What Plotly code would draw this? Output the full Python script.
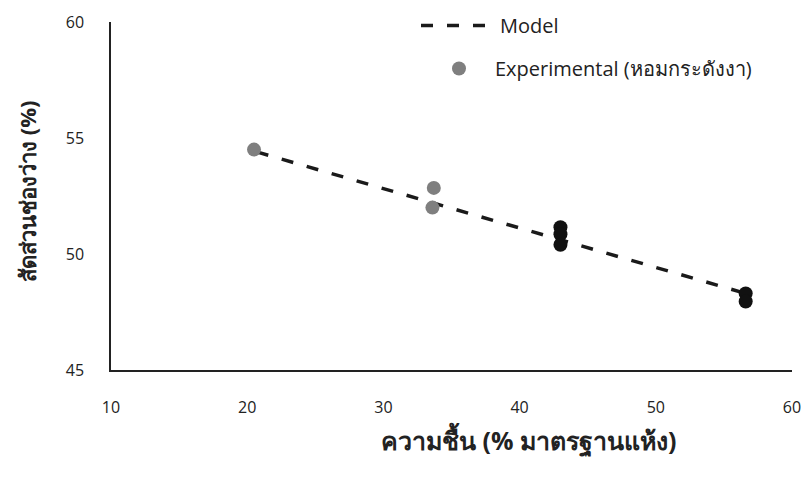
import plotly.graph_objects as go

# Data
model_x = [20.7, 56.6]
model_y = [54.4, 48.3]

exp_grey_x = [20.5, 33.7, 33.6]
exp_grey_y = [54.5, 52.85, 52.0]

exp_dark_x = [43.0, 43.0, 43.0, 56.6, 56.6]
exp_dark_y = [51.15, 50.85, 50.4, 48.3, 47.95]

x_ticks = [10, 20, 30, 40, 50, 60]
y_ticks = [45, 50, 55, 60]

# figure / plot-area geometry in pixels (for placing legends / titles)
FW, FH = 807, 484
L, R, T, B = 111, 792, 22, 370
W, H = R - L, B - T

fig = go.Figure()

fig.add_trace(go.Scatter(
    x=model_x, y=model_y, mode="lines", name="Model", legend="legend",
    line=dict(color="#1a1a1a", width=3.5, dash="12px,14px"),
))
fig.add_trace(go.Scatter(
    x=exp_grey_x, y=exp_grey_y, mode="markers", name="Experimental (หอมกระดังงา)",
    legend="legend2",
    marker=dict(color="#7f7f7f", size=14),
))
fig.add_trace(go.Scatter(
    x=exp_dark_x, y=exp_dark_y, mode="markers", showlegend=False,
    marker=dict(color="#111111", size=14),
))

legend_common = dict(xanchor="left", yanchor="top", xref="container", yref="container",
                     bgcolor="rgba(0,0,0,0)", font=dict(size=20, color="#222222"),
                     borderwidth=0)

fig.update_layout(
    width=FW, height=FH,
    margin=dict(l=L, r=FW - R, t=T, b=FH - B, autoexpand=False),
    paper_bgcolor="white", plot_bgcolor="white",
    font=dict(family="Open Sans, Noto Sans, sans-serif", color="#222222", size=16),
    showlegend=True,
    legend=dict(x=416 / FW, y=1 - 6 / FH, itemwidth=74, **legend_common),
    legend2=dict(x=423 / FW, y=1 - 49 / FH, itemwidth=62, **legend_common),
    xaxis=dict(range=[10, 60], tickvals=x_ticks, showgrid=False, zeroline=False,
               showline=True, linecolor="#222222", linewidth=1.5,
               ticks="", ticklabelstandoff=22, tickfont=dict(size=16)),
    yaxis=dict(range=[45, 60], tickvals=y_ticks, showgrid=False, zeroline=False,
               showline=True, linecolor="#222222", linewidth=1.5,
               ticks="", ticklabelstandoff=22, tickfont=dict(size=16)),
    annotations=[
        dict(text="<b>ความชื้น (% มาตรฐานแห้ง)</b>", xref="paper", yref="paper",
             x=(528 - L) / W, y=-(440 - B) / H,
             xanchor="center", yanchor="middle", showarrow=False,
             font=dict(size=25, color="#222222")),
        dict(text="<b>สัดส่วนช่องว่าง (%)</b>", xref="paper", yref="paper",
             x=-(L - 27) / W, y=(B - 192) / H,
             xanchor="center", yanchor="middle", textangle=-90, showarrow=False,
             font=dict(size=22, color="#222222")),
    ],
)

fig.write_html("out.html")
